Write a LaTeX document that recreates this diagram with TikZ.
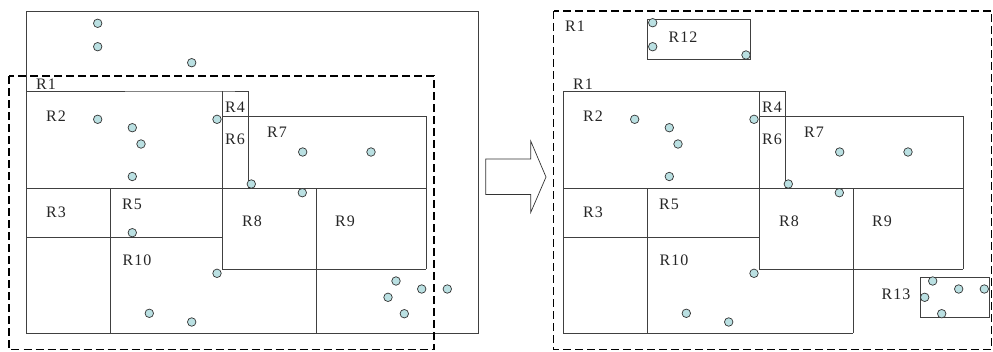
\documentclass[tikz,border=0pt]{standalone}
\usepackage{fontspec}
\setmainfont[LetterSpace=6]{Liberation Serif}
\definecolor{ptfill}{RGB}{186,224,226}
\begin{document}
\begin{tikzpicture}[x=1pt,y=-1pt,
  region/.style={draw=black!75, line width=0.8pt},
  mbr/.style={draw=black, line width=1.6pt, dash pattern=on 8pt off 4pt},
  pt/.style={circle, draw=black!80, fill=ptfill, line width=0.7pt, minimum size=8.5pt, inner sep=0pt},
  lab/.style={font=\fontsize{16}{16}\selectfont, inner sep=0pt, text=black!85}]
\useasboundingbox (0,0) rectangle (993,351);
% ---------------- left panel ----------------
\draw[region] (26,11) rectangle (478,333);
\draw[region] (26,91) -- (222,91) -- (248,91) -- (248,188);
\draw[region] (222,91) -- (222,269) -- (426,269);
\draw[region] (222,116) -- (426,116) -- (426,269);
\draw[region] (26,188) -- (426,188);
\draw[region] (26,237) -- (222,237);
\draw[region] (110,188) -- (110,333);
\draw[region] (316,188) -- (316,333);
\draw[mbr] (9,76) rectangle (434,349.5);
\node[lab] (l1) at (46,84) {R1};
\node[lab] (l2) at (56,116) {R2};
\node[lab] (l4) at (235,107) {R4};
\node[lab] (l6) at (235,139) {R6};
\node[lab] (l7) at (277,132) {R7};
\node[lab] (l3) at (56,212) {R3};
\node[lab] (l5) at (132,204) {R5};
\node[lab] (l10) at (137,260) {R10};
\node[lab] (l8) at (252,221) {R8};
\node[lab] (l9) at (345,221) {R9};
\foreach \x/\y [count=\i] in {97.7/23.3, 97.7/46.7, 191.7/62.7, 97.7/119.3, 132.3/127.7, 141/144, 132.3/176.5, 217/119.3, 302.7/152, 371/152, 132.3/232.7, 217/273.3, 149.3/313.3, 191.7/322, 251.3/184, 302.3/192.7, 396/281, 421.7/289, 388/297.3, 404.3/313.7, 447.3/289}
  \node[pt] (lp\i) at (\x,\y) {};
% ---------------- arrow ----------------
\draw[draw=black!80, line width=0.7pt, fill=white] (485.7,159) -- (530.7,159) -- (530.7,141) -- (546,177) -- (530.7,212.5) -- (530.7,194.5) -- (485.7,194.5) -- cycle;
% ---------------- right panel ----------------
\begin{scope}[xshift=537pt]
\draw[region] (26,91) -- (248,91) -- (248,188);
\draw[region] (26,91) -- (26,333) -- (316,333);
\draw[region] (222,91) -- (222,269) -- (426,269);
\draw[region] (222,116) -- (426,116) -- (426,269);
\draw[region] (26,188) -- (426,188);
\draw[region] (26,237) -- (222,237);
\draw[region] (110,188) -- (110,333);
\draw[region] (316,188) -- (316,333);
\node[lab] (r1b) at (46,84) {R1};
\node[lab] (r2) at (56,116) {R2};
\node[lab] (r4) at (235,107) {R4};
\node[lab] (r6) at (235,139) {R6};
\node[lab] (r7) at (277,132) {R7};
\node[lab] (r3) at (56,212) {R3};
\node[lab] (r5) at (132,204) {R5};
\node[lab] (r10) at (137,260) {R10};
\node[lab] (r8) at (252,221) {R8};
\node[lab] (r9) at (345,221) {R9};
\foreach \x/\y [count=\i] in {97.7/119.3, 132.3/127.7, 141/144, 132.3/176.5, 217/119.3, 302.7/152, 371/152, 217/273.3, 149.3/313.3, 191.7/322, 251.3/184, 302.3/192.7}
  \node[pt] (rp\i) at (\x,\y) {};
\end{scope}
\draw[mbr] (553.5,11) rectangle (991.5,349.5);
\node[lab] (r1a) at (575,26) {R1};
\draw[region] (647.3,19) rectangle (750,59);
\node[lab] (r12) at (683,37) {R12};
\foreach \x/\y [count=\i] in {652.7/22.7, 652.7/46.7, 746/55}
  \node[pt] (sa\i) at (\x,\y) {};
\draw[region] (920.7,277.3) rectangle (989,317.7);
\node[lab] (r13) at (896,294) {R13};
\foreach \x/\y [count=\i] in {932.7/281, 958.7/289, 984.3/289, 924.7/297.3, 941.7/313.7}
  \node[pt] (sb\i) at (\x,\y) {};
\end{tikzpicture}
\end{document}
